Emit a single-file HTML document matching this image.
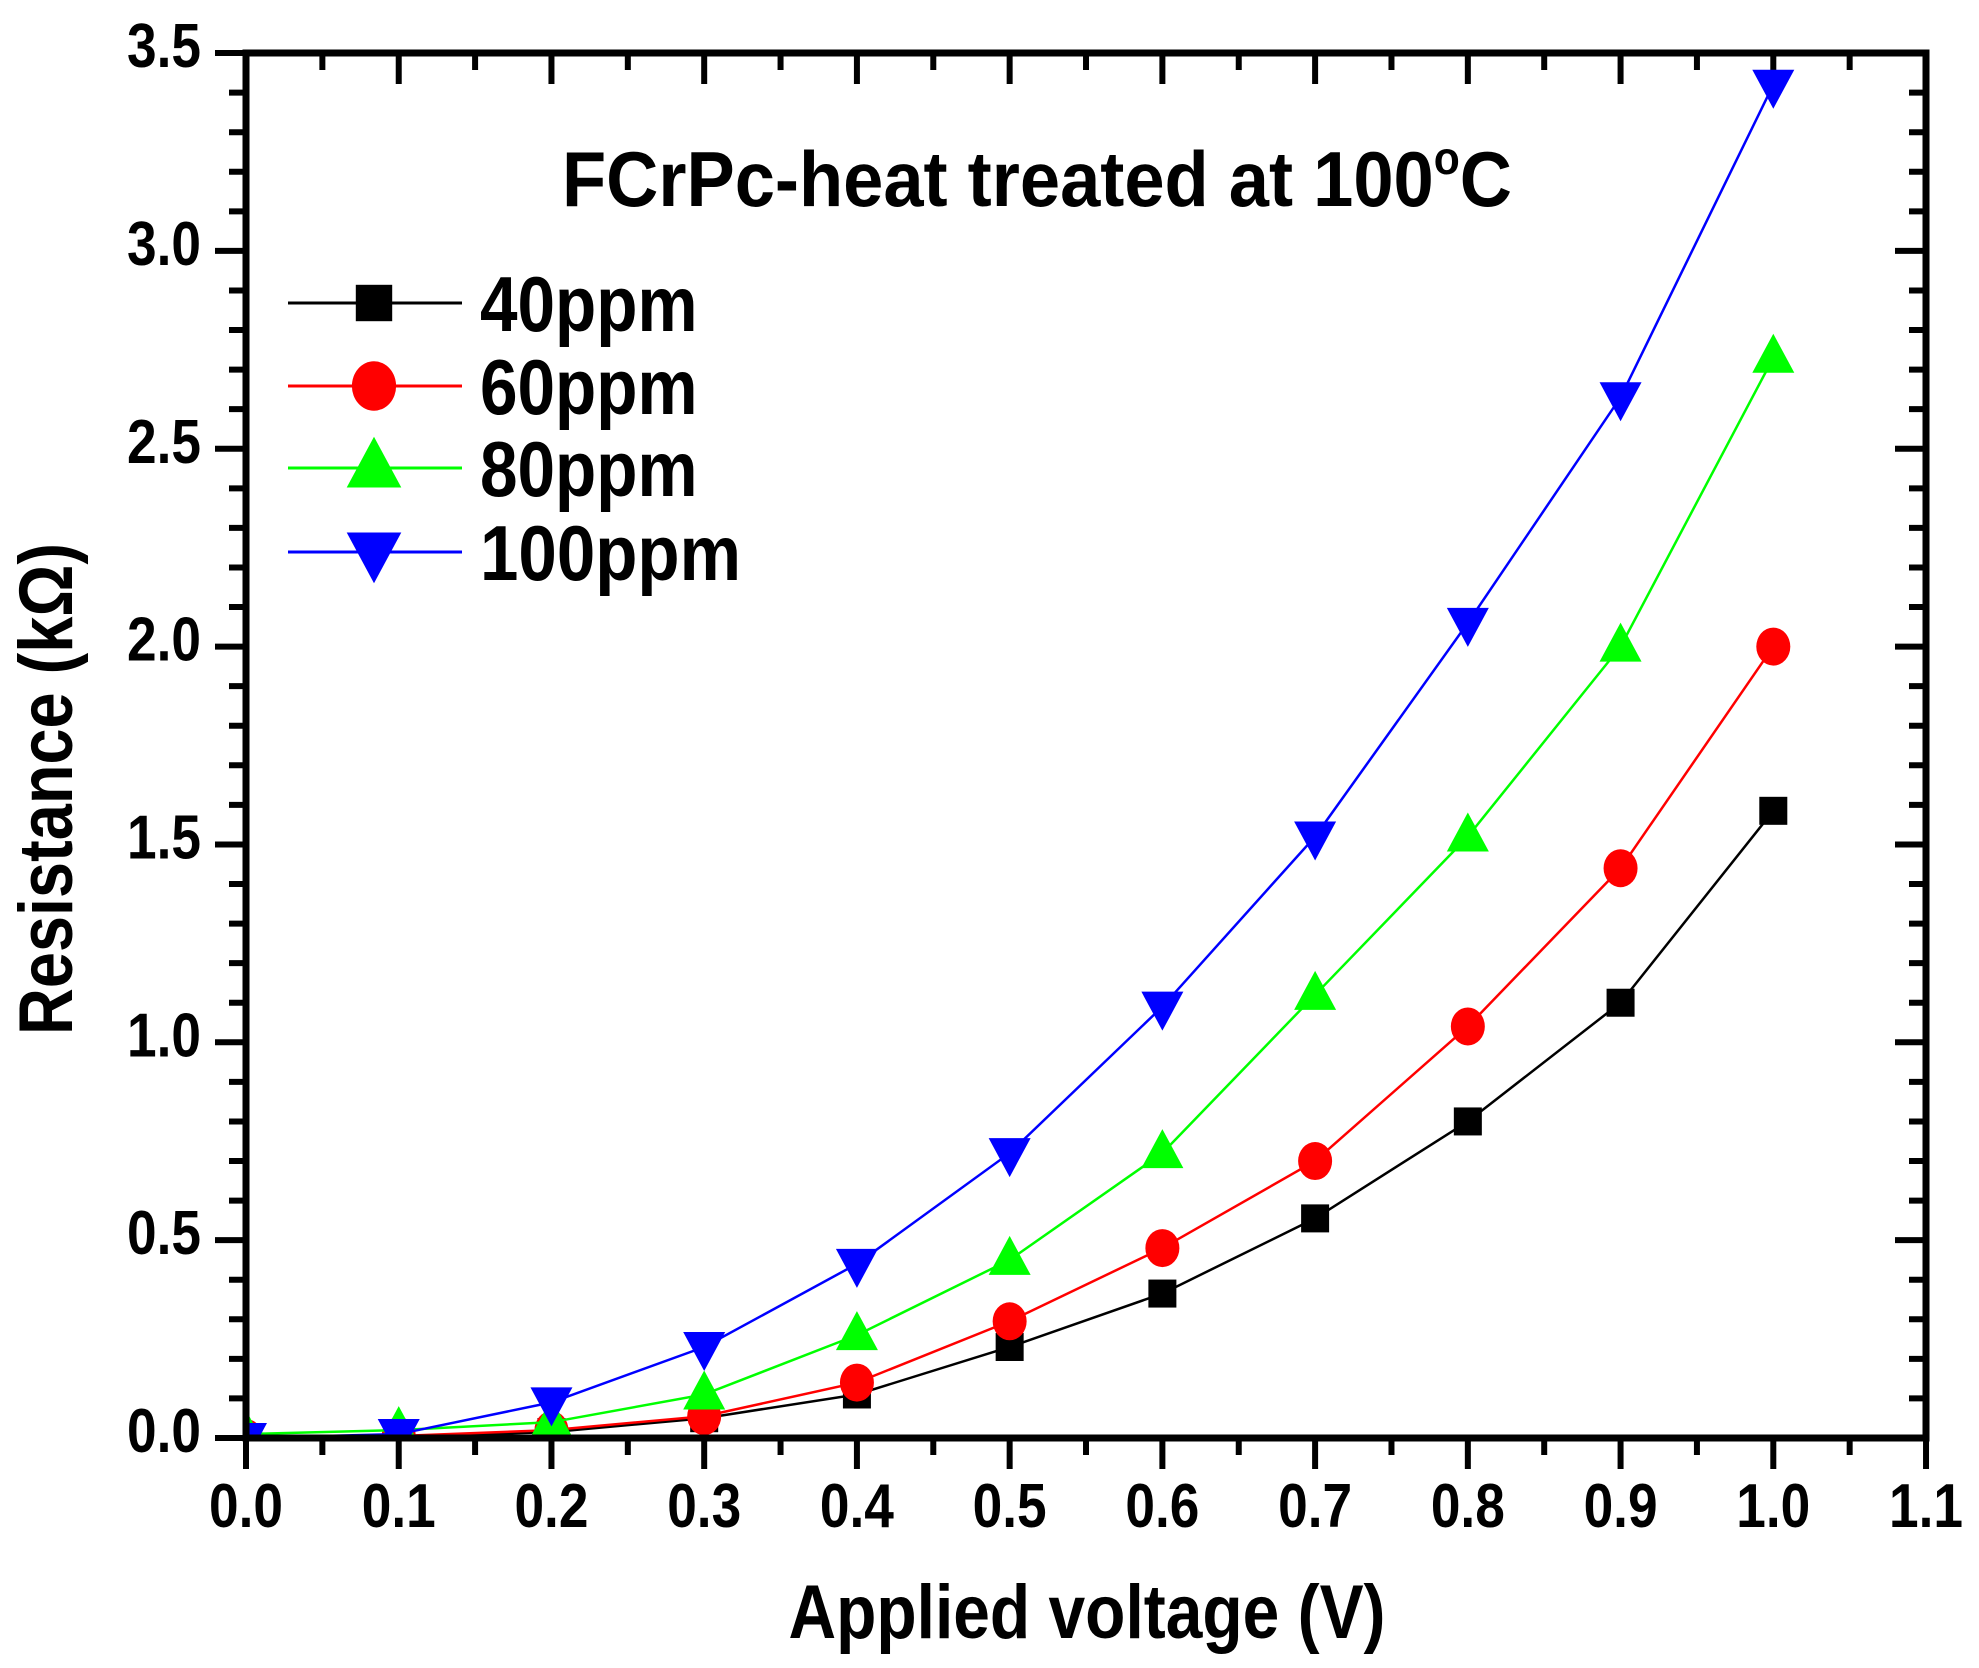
<!DOCTYPE html>
<html><head><meta charset="utf-8"><style>body{margin:0;background:#fff}svg{display:block}</style></head><body>
<svg width="1979" height="1668" viewBox="0 0 1979 1668" xmlns="http://www.w3.org/2000/svg" font-family="Liberation Sans, sans-serif" font-weight="bold">
<defs><clipPath id="c"><rect x="246" y="53" width="1680" height="1385"/></clipPath></defs>
<g id="ticks" stroke="#000" stroke-width="6"></g>
<g id="series" clip-path="url(#c)"></g>
<rect x="246" y="53" width="1680" height="1385" fill="none" stroke="#000" stroke-width="7"/>
<g id="labels" font-size="62" fill="#000"></g>
<text x="1037" y="206" font-size="78" text-anchor="middle" textLength="950" lengthAdjust="spacingAndGlyphs">FCrPc-heat treated at 100<tspan font-size="46" dy="-32">o</tspan><tspan dy="32">C</tspan></text>
<text x="1087" y="1638" font-size="76" text-anchor="middle" textLength="597" lengthAdjust="spacingAndGlyphs">Applied voltage (V)</text>
<text transform="translate(72,789) rotate(-90)" font-size="76" text-anchor="middle" textLength="492" lengthAdjust="spacingAndGlyphs">Resistance (kΩ)</text>
<g id="legend" font-size="78"></g>
<script>
const X=v=>246+v*1527.3, Y=v=>1438-v*395.7, NS="http://www.w3.org/2000/svg";
function el(p,t,a,txt){const e=document.createElementNS(NS,t);for(const k in a)e.setAttribute(k,a[k]);if(txt!=null)e.textContent=txt;document.getElementById(p).appendChild(e);return e;}
for(let i=0;i<=22;i++){const x=X(i*0.05),maj=i%2==0,L=maj?31:17;
 el('ticks','line',{x1:x,y1:1438,x2:x,y2:1438+L});el('ticks','line',{x1:x,y1:53,x2:x,y2:53+L});
 if(maj) el('labels','text',{x:x,y:1527,'text-anchor':'middle',textLength:74,lengthAdjust:'spacingAndGlyphs'},(i*0.05).toFixed(1));}
for(let i=0;i<=35;i++){const y=Y(i*0.1),maj=i%5==0,L=maj?31:17;
 el('ticks','line',{x1:246,y1:y,x2:246-L,y2:y});el('ticks','line',{x1:1926,y1:y,x2:1926-L,y2:y});
 if(maj) el('labels','text',{x:201,y:y+14,'text-anchor':'end',textLength:74,lengthAdjust:'spacingAndGlyphs'},(i*0.1).toFixed(1));}
const S=[["#000","sq",[0,0.003,0.015,0.05,0.11,0.23,0.365,0.555,0.8,1.1,1.585]],
["#f00","ci",[0,0.005,0.02,0.055,0.14,0.295,0.48,0.70,1.04,1.44,2.0]],
["#0f0","up",[0.01,0.02,0.04,0.11,0.26,0.45,0.72,1.12,1.52,2.0,2.73]],
["#00f","dn",[0,0.01,0.09,0.23,0.44,0.72,1.09,1.52,2.06,2.63,3.42]]];
function mk(p,t,x,y,c,s){s=s||1;if(t=="sq")el(p,'rect',{x:x-14*s,y:y-14*s,width:28*s,height:28*s,fill:c});
 else if(t=="ci")el(p,'ellipse',{cx:x,cy:y,rx:17*s,ry:19*s,fill:c});
 else if(t=="up")el(p,'polygon',{points:`${x},${y-24*s} ${x-21*s},${y+15*s} ${x+21*s},${y+15*s}`,fill:c});
 else el(p,'polygon',{points:`${x},${y+24*s} ${x-21*s},${y-15*s} ${x+21*s},${y-15*s}`,fill:c});}
S.forEach(([c,t,d])=>{el('series','polyline',{points:d.map((v,i)=>X(i/10)+','+Y(v)).join(' '),fill:'none',stroke:c,'stroke-width':2.5});
 d.forEach((v,i)=>mk('series',t,X(i/10),Y(v),c));});
const LY=[303,386,468,552],LN=["40ppm","60ppm","80ppm","100ppm"];
S.forEach(([c,t],i)=>{el('legend','line',{x1:288,y1:LY[i],x2:462,y2:LY[i],stroke:c,'stroke-width':3});mk('legend',t,374,LY[i],c,1.3);
 el('legend','text',{x:480,y:LY[i]+28,textLength:LN[i].length*43.5,lengthAdjust:'spacingAndGlyphs'},LN[i]);});
</script>
</svg>
</body></html>
